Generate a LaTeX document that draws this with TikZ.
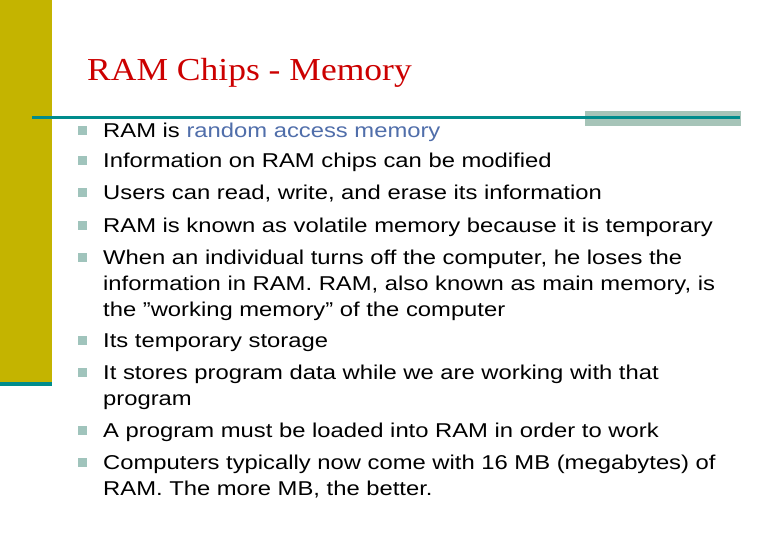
\documentclass[tikz,border=0pt]{standalone}
\usepackage{fontspec}
\setmainfont{Liberation Sans}[FakeStretch=1.19]
\newfontfamily\seriff{Liberation Serif}[FakeStretch=1.11]
\definecolor{olive}{RGB}{196,180,0}
\definecolor{tealc}{RGB}{0,140,140}
\definecolor{greyb}{RGB}{166,196,184}
\definecolor{bul}{RGB}{160,196,188}
\definecolor{titlered}{RGB}{204,0,0}
\definecolor{linkc}{RGB}{80,110,170}
\begin{document}
\begin{tikzpicture}[x=1pt,y=-1pt,
  txt/.style={anchor=base west,inner sep=0pt,font=\fontsize{20}{24}\selectfont},
  bsq/.style={fill=bul,draw=none,minimum size=9pt,inner sep=0pt}]
\useasboundingbox (0,0) rectangle (780,540);
\fill[white] (0,0) rectangle (780,540);
\fill[olive] (0,0) rectangle (52,382);
\fill[tealc] (0,382) rectangle (52,386);
\fill[greyb] (585,111) rectangle (741,126);
\fill[tealc] (32,116) rectangle (740,119);
\node[anchor=base west,inner sep=0pt,text=titlered,font=\seriff\fontsize{32}{36}\selectfont] (title) at (87,81) {RAM Chips - Memory};
\foreach \y/\t [count=\i] in {138/{RAM is \textcolor{linkc}{random access memory}},
 168/{Information on RAM chips can be modified},
 200/{Users can read, write, and erase its information},
 233/{RAM is known as volatile memory because it is temporary},
 265/{When an individual turns off the computer, he loses the},
 348/{Its temporary storage},
 380/{It stores program data while we are working with that},
 437/{A program must be loaded into RAM in order to work},
 469/{Computers typically now come with 16 MB (megabytes) of}}{
  \node[bsq] (b\i) at (82,\y-7) {};
  \node[txt] (t\i) at (103,\y) {\t};
}
\node[txt] (c1) at (103,291) {information in RAM. RAM, also known as main memory, is};
\node[txt] (c2) at (103,317) {the \symbol{34}working memory\symbol{34} of the computer};
\node[txt] (c3) at (103,406) {program};
\node[txt] (c4) at (103,495) {RAM. The more MB, the better.};
\end{tikzpicture}
\end{document}
